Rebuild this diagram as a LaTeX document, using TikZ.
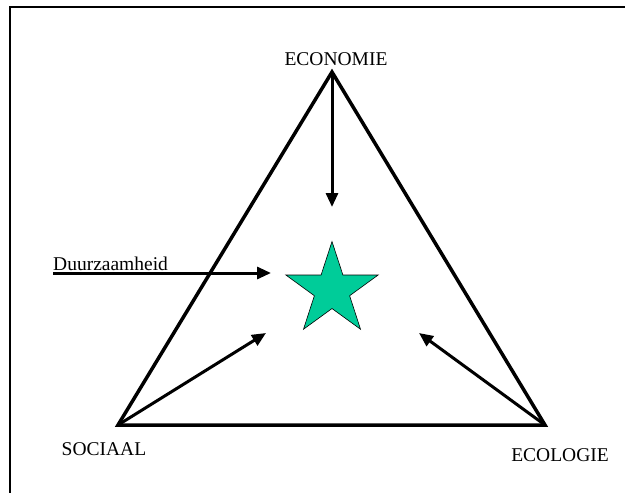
\documentclass[tikz,border=0pt]{standalone}
\usepackage{fontspec}
\setmainfont{Liberation Serif}
\usetikzlibrary{shapes.geometric,arrows.meta}
\definecolor{stargreen}{RGB}{0,204,153}
\begin{document}
\begin{tikzpicture}[x=1pt,y=-1pt,font=\fontsize{19.5}{22}\selectfont]
        \useasboundingbox (0,0) rectangle (625,493);
        \begin{scope}
            \clip (0,0) rectangle (625,493);
            \draw[line width=1.5pt] (10,7) rectangle (640,510);
        \end{scope}

        \coordinate (E) at (332,72);
        \coordinate (S) at (118,425);
        \coordinate (C) at (545,425);
        \node[draw, star, star points=5, star point ratio=2.618, minimum size=97pt, inner sep=0pt, fill=stargreen, line width=0.6pt] (ster) at (332,290) {};

        \node[anchor=base, inner sep=0pt] (econ) at (336,65) {ECONOMIE};
        \node[anchor=base, inner sep=0pt] (soc) at (104,455) {SOCIAAL};
        \node[anchor=base, inner sep=0pt] (eco) at (560,461) {ECOLOGIE};
        \node[anchor=base west, inner sep=0pt] (duur) at (53,270) {Duurzaamheid};

        \coordinate (duurstart) at (53,273);
        \coordinate (tipE) at (332,207);
        \coordinate (tipD) at (271,273);
        \coordinate (tipS) at (266,333);
        \coordinate (tipC) at (419,333);

        \draw[line width=3.5pt, line join=miter] (E) -- (S) -- (C) -- cycle;

        \draw[-{Triangle[length=14pt, width=12pt]}, line width=3pt] (E) -- (tipE);
        \draw[-{Triangle[length=14pt, width=12pt]}, line width=3pt] (duurstart) -- (tipD);
        \draw[-{Triangle[length=14pt, width=12pt]}, line width=3pt] (S) -- (tipS);
        \draw[-{Triangle[length=14pt, width=12pt]}, line width=3pt] (C) -- (tipC);
    \end{tikzpicture}
\end{document}
